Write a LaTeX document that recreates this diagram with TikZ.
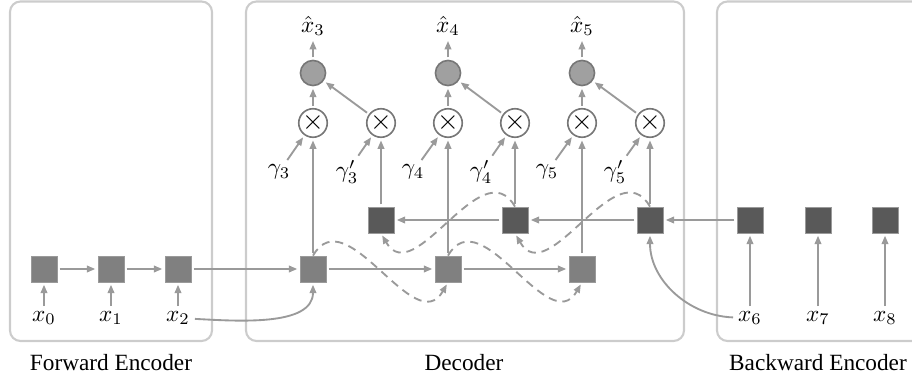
\documentclass[tikz,border=0pt]{standalone}
\usepackage{amsmath}
\usepackage{fontspec}
\setmainfont{Liberation Serif}
\usetikzlibrary{arrows.meta}
\definecolor{linegray}{HTML}{9A9A9A}
\definecolor{panelgray}{HTML}{CCCCCC}
\definecolor{fwdgray}{HTML}{808080}
\definecolor{bwdgray}{HTML}{595959}
\definecolor{outgray}{HTML}{A0A0A0}
\definecolor{edgegray}{HTML}{777777}

\begin{document}
\begin{tikzpicture}[x=0.43pt, y=-0.43pt,
  conn/.style={draw=linegray, line width=0.8pt, -{Triangle[length=3.6pt,width=2.8pt]}, shorten >=1pt, shorten <=1pt},
  dashconn/.style={conn, dash pattern=on 3.5pt off 2.5pt},
  panel/.style={draw=panelgray, line width=0.9pt, rounded corners=4.5pt},
  fwd/.style={rectangle, fill=fwdgray, draw=linegray, line width=0.3pt, minimum size=11.2pt, inner sep=0pt},
  bwd/.style={rectangle, fill=bwdgray, draw=linegray, line width=0.3pt, minimum size=11.2pt, inner sep=0pt},
  outc/.style={circle, fill=outgray, draw=edgegray, line width=0.7pt, minimum size=10.8pt, inner sep=0pt},
  mult/.style={circle, fill=white, draw=edgegray, line width=0.7pt, minimum size=11.2pt, inner sep=0pt, font=\large},
  lab/.style={inner sep=1pt}]
\clip (0,0) rectangle (912,383);

% panels
\draw[panel] (10,1.5) rectangle (212,341);
\draw[panel] (246,1.5) rectangle (684,341);
\draw[panel] (717,1.5) rectangle (950,341);
\node (fname) at (111,363) {Forward Encoder};
\node (dname) at (464,363) {Decoder};
\node (bname) at (818,363) {Backward Encoder};

% forward encoder
\node[fwd] (f0) at (44,269) {};
\node[fwd] (f1) at (111,269) {};
\node[fwd] (f2) at (178,269) {};
\node[lab] (x0) at (44,318) {$x_0$};
\node[lab] (x1) at (111,318) {$x_1$};
\node[lab] (x2) at (178,318) {$x_2$};

% backward encoder
\node[bwd] (e6) at (750,220) {};
\node[bwd] (e7) at (818,220) {};
\node[bwd] (e8) at (885,220) {};
\node[lab] (x6) at (750,318) {$x_6$};
\node[lab] (x7) at (818,318) {$x_7$};
\node[lab] (x8) at (885,318) {$x_8$};

% decoder
\node[fwd] (d3) at (313,269) {};
\node[fwd] (d4) at (448,269) {};
\node[fwd] (d5) at (582,269) {};
\node[bwd] (b3) at (381,220) {};
\node[bwd] (b4) at (515,220) {};
\node[bwd] (b5) at (650,220) {};
\node[mult] (m3) at (313,123) {$\times$};
\node[mult] (n3) at (381,123) {$\times$};
\node[mult] (m4) at (448,123) {$\times$};
\node[mult] (n4) at (515,123) {$\times$};
\node[mult] (m5) at (582,123) {$\times$};
\node[mult] (n5) at (650,123) {$\times$};
\node[outc] (o3) at (313,73) {};
\node[outc] (o4) at (448,73) {};
\node[outc] (o5) at (582,73) {};
\node[lab] (h3) at (313,26) {$\hat{x}_3$};
\node[lab] (h4) at (448,26) {$\hat{x}_4$};
\node[lab] (h5) at (582,26) {$\hat{x}_5$};
\node[lab] (g3) at (279,172) {$\gamma_3$};
\node[lab] (k3) at (347,172) {$\gamma'_3$};
\node[lab] (g4) at (413,172) {$\gamma_4$};
\node[lab] (k4) at (481,172) {$\gamma'_4$};
\node[lab] (g5) at (547,172) {$\gamma_5$};
\node[lab] (k5) at (615,172) {$\gamma'_5$};

% forward chain
\draw[conn] (x0) -- (f0);
\draw[conn] (x1) -- (f1);
\draw[conn] (x2) -- (f2);
\draw[conn] (f0) -- (f1);
\draw[conn] (f1) -- (f2);
\draw[conn] (f2) -- (d3);
\draw[conn] (d3) -- (d4);
\draw[conn] (d4) -- (d5);
\draw[conn] (x2) to[out=-3, in=-90, looseness=0.9] (d3);

% backward chain
\draw[conn] (x6) -- (e6);
\draw[conn] (x7) -- (e7);
\draw[conn] (x8) -- (e8);
\draw[conn] (e6) -- (b5);
\draw[conn] (b5) -- (b4);
\draw[conn] (b4) -- (b3);
\draw[conn] (x6) to[out=178, in=-90] (b5);

% into the products
\draw[conn] (d3) -- (m3);
\draw[conn] (b3) -- (n3);
\draw[conn] (d4) -- (m4);
\draw[conn] (b4) -- (n4);
\draw[conn] (d5) -- (m5);
\draw[conn] (b5) -- (n5);
\draw[conn] (g3) -- (m3);
\draw[conn] (k3) -- (n3);
\draw[conn] (g4) -- (m4);
\draw[conn] (k4) -- (n4);
\draw[conn] (g5) -- (m5);
\draw[conn] (k5) -- (n5);

% outputs
\draw[conn] (m3) -- (o3);
\draw[conn] (n3) -- (o3);
\draw[conn] (o3) -- (h3);
\draw[conn] (m4) -- (o4);
\draw[conn] (n4) -- (o4);
\draw[conn] (o4) -- (h4);
\draw[conn] (m5) -- (o5);
\draw[conn] (n5) -- (o5);
\draw[conn] (o5) -- (h5);

% dashed links
\draw[dashconn, shorten <=0pt] (d3.north) to[out=60, in=-120, looseness=1.25] (d4.south);
\draw[dashconn, shorten <=0pt] (d4.north) to[out=60, in=-120, looseness=1.25] (d5.south);
\draw[dashconn, shorten <=0pt] (b4.north) to[out=120, in=-60, looseness=1.25] (b3.south);
\draw[dashconn, shorten <=0pt] (b5.north) to[out=120, in=-60, looseness=1.25] (b4.south);
\end{tikzpicture}
\end{document}
